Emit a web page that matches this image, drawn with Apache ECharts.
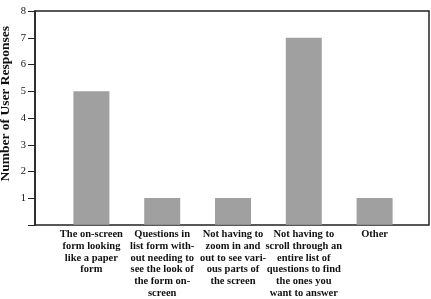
<!DOCTYPE html>
<html>
<head>
<meta charset="utf-8">
<script src="https://cdn.jsdelivr.net/npm/echarts@6/dist/echarts.min.js"></script>
<style>
  html, body { margin: 0; padding: 0; background: #fff; }
  #chart { width: 431px; height: 299px; }
</style>
</head>
<body>
<div id="chart"></div>
<script>
const categories = [
  'The on-screen\nform looking\nlike a paper\nform',
  'Questions in\nlist form with-\nout needing to\nsee the look of\nthe form on-\nscreen',
  'Not having to\nzoom in and\nout to see vari-\nous parts of\nthe screen',
  'Not having to\nscroll through an\nentire list of\nquestions to find\nthe ones you\nwant to answer',
  'Other'
];
const responses = [5, 1, 1, 7, 1];
const yTicks = [0, 8, 1]; // min, max, interval
const yTitle = 'Number of User Responses';

const font = '"Liberation Serif", "DejaVu Serif", serif';

const chart = echarts.init(document.getElementById('chart'), null, { renderer: 'canvas' });

const option = {
  backgroundColor: '#fff',
  animation: false,
  graphic: [{
    type: 'text',
    left: -1,
    top: 26,
    rotation: Math.PI / 2,
    style: {
      text: yTitle,
      font: 'bold 13.5px ' + font,
      fill: '#111'
    }
  }],
  grid: [
    // frame
    { left: 35, right: 2, top: 11, bottom: 74, show: true, borderColor: '#222', borderWidth: 1.5, backgroundColor: 'transparent' },
    // bars
    { left: 56, right: 21, top: 11, bottom: 74 }
  ],
  xAxis: [
    { gridIndex: 0, type: 'value', show: false, min: 0, max: 1 },
    {
      gridIndex: 1,
      type: 'category',
      data: categories,
      axisLine: { show: false },
      axisTick: { show: false },
      axisLabel: {
        interval: 0,
        margin: 4,
        color: '#111',
        fontFamily: font,
        fontWeight: 'bold',
        fontSize: 10.5,
        lineHeight: 11.7,
        align: 'center'
      }
    }
  ],
  yAxis: [
    {
      gridIndex: 0,
      type: 'value',
      min: yTicks[0],
      max: yTicks[1],
      interval: yTicks[2],
      axisLine: { show: true, lineStyle: { color: '#222', width: 1.5 } },
      axisTick: { show: true, length: 7, lineStyle: { color: '#222' } },
      axisLabel: {
        margin: 9,
        color: '#111',
        fontFamily: font,
        fontSize: 10.5,
        formatter: v => (v === 0 ? '' : v)
      },
      splitLine: { show: false }
    },
    {
      gridIndex: 1,
      type: 'value',
      min: yTicks[0],
      max: yTicks[1],
      show: false
    }
  ],
  series: [{
    type: 'bar',
    xAxisIndex: 1,
    yAxisIndex: 1,
    data: responses,
    barWidth: 36,
    itemStyle: { color: '#a0a0a0' }
  }]
};

chart.setOption(option);
</script>
</body>
</html>
